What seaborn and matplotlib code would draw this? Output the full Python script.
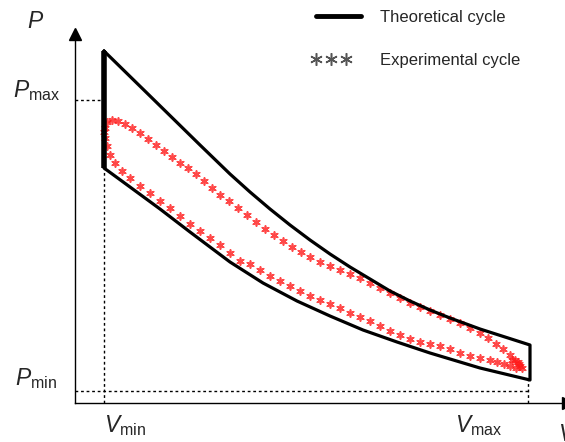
import matplotlib
matplotlib.use('Agg')
import numpy as np
import pandas as pd
import matplotlib.pyplot as plt
from matplotlib.lines import Line2D
from matplotlib.legend_handler import HandlerLine2D
import seaborn as sns

# Theoretical cycle (arbitrary units)
theo_upper_v = [2.9, 7.5, 12.5, 15.5, 17.5, 19.5, 21.5, 23.5, 25.5, 27.5, 29.5,
                31.5, 33.5, 35.5, 37.5, 40.5, 43.0, 45.5]
theo_upper_p = [35.2, 30.7, 25.8, 22.9, 21.1, 19.4, 17.8, 16.3, 14.9, 13.6, 12.4,
                11.2, 10.2, 9.3, 8.5, 7.4, 6.6, 5.8]
theo_lower_v = [45.5, 40.5, 35.5, 32.2, 28.8, 25.5, 22.2, 18.8, 15.5, 13.5, 11.5,
                8.5, 5.5, 2.9]
theo_lower_p = [2.3, 3.5, 5.0, 6.1, 7.3, 8.7, 10.2, 12.0, 14.1, 15.6, 17.1,
                19.4, 21.6, 23.5]

# Experimental cycle, upper branch (left to right)
exp_upper_v = [3.0, 3.2, 3.7, 4.3, 5.0, 5.7, 6.5, 7.3, 8.1, 8.9, 9.7, 10.5, 11.3,
               12.1, 12.9, 13.7, 14.5, 15.4, 16.3, 17.2, 18.1, 19.0, 19.9, 20.8,
               21.7, 22.6, 23.5, 24.5, 25.5, 26.5, 27.5, 28.5, 29.5, 30.5, 31.5,
               32.5, 33.5, 34.5, 35.5, 36.5, 37.5, 38.5, 39.5, 40.5, 41.3, 42.1,
               42.8, 43.5, 44.0, 44.4, 44.7]
exp_upper_p = [27.5, 28.1, 28.3, 28.2, 27.9, 27.5, 27.0, 26.4, 25.8, 25.2, 24.6,
               24.0, 23.5, 22.9, 22.2, 21.5, 20.8, 20.2, 19.5, 18.8, 18.1, 17.4,
               16.8, 16.2, 15.6, 15.1, 14.6, 14.1, 13.7, 13.3, 12.9, 12.5, 12.0,
               11.5, 11.0, 10.5, 10.0, 9.6, 9.2, 8.8, 8.4, 8.0, 7.5, 7.0, 6.5,
               5.9, 5.4, 4.8, 4.3, 3.9, 3.5]
# Experimental cycle, lower branch (right to left)
exp_lower_v = [44.5, 44.3, 43.7, 44.1, 43.5, 42.9, 42.2, 41.5, 40.5, 39.5, 38.5,
               37.5, 36.5, 35.5, 34.5, 33.5, 32.5, 31.5, 30.5, 29.5, 28.5, 27.5,
               26.5, 25.5, 24.5, 23.5, 22.5, 21.5, 20.5, 19.5, 18.5, 17.5, 16.5,
               15.5, 14.5, 13.5, 12.5, 11.5, 10.5, 9.5, 8.5, 7.5, 6.5, 5.5, 4.7,
               4.0, 3.5, 3.2, 3.0, 2.9]
exp_lower_p = [3.7, 4.1, 4.3, 3.5, 3.7, 3.9, 4.1, 4.3, 4.5, 4.7, 5.0, 5.4, 5.7,
               5.9, 6.1, 6.4, 6.8, 7.2, 7.7, 8.2, 8.6, 9.0, 9.5, 9.9, 10.3, 10.7,
               11.2, 11.7, 12.2, 12.7, 13.3, 13.9, 14.2, 15.0, 15.8, 16.5, 17.2,
               17.9, 18.7, 19.5, 20.2, 21.0, 21.7, 22.5, 23.2, 24.0, 24.8, 25.7,
               26.5, 27.1]

# Reference levels
v_min, v_max = 2.9, 45.3
p_max, p_min = 30.3, 1.2

theo = pd.DataFrame({
    'V': theo_upper_v + theo_lower_v + [theo_upper_v[0]],
    'P': theo_upper_p + theo_lower_p + [theo_upper_p[0]],
})
expe = pd.DataFrame({'V': exp_upper_v + exp_lower_v,
                     'P': exp_upper_p + exp_lower_p})


class CompactHandler(HandlerLine2D):
    # squeeze the legend markers into the left part of the handle
    def get_xdata(self, legend, xdescent, ydescent, width, height, fontsize):
        return super().get_xdata(legend, xdescent, ydescent, width * 0.72,
                                 height, fontsize)


sns.set_style('white')
plt.rcParams['font.family'] = ['Liberation Sans', 'DejaVu Sans']
plt.rcParams['mathtext.fontset'] = 'custom'
plt.rcParams['mathtext.rm'] = 'Liberation Sans'
plt.rcParams['mathtext.it'] = 'Liberation Sans:italic'

fig = plt.figure(figsize=(5.65, 4.42), dpi=100)
ax = fig.add_axes([75 / 565, 39 / 442, 490 / 565, 403 / 442])
ax.set_xlim(0, 49.0)
ax.set_ylim(0, 40.3)

# dashed guides
dash = dict(color='black', lw=1, ls=(0, (2, 2)))
ax.plot([0, v_min], [p_max, p_max], **dash)
ax.plot([0, v_max], [p_min, p_min], **dash)
ax.plot([v_min, v_min], [0, theo_lower_p[-1]], **dash)
ax.plot([v_max, v_max], [0, theo_lower_p[0]], **dash)

# theoretical cycle
sns.lineplot(data=theo, x='V', y='P', sort=False, estimator=None,
             color='black', lw=2.3, ax=ax)
ax.plot([theo_lower_v[-1], theo_upper_v[0]], [theo_lower_p[-1], theo_upper_p[0]],
        color='black', lw=4, solid_capstyle='butt')

# experimental cycle
sns.scatterplot(data=expe, x='V', y='P', marker=(6, 2, 0), color='#ff1a1a',
                s=26, linewidth=1.2, alpha=0.8, ax=ax)

# axes with arrows
for side in ['top', 'right']:
    ax.spines[side].set_visible(False)
for side in ['left', 'bottom']:
    ax.spines[side].set_color('black')
    ax.spines[side].set_linewidth(1)
ax.spines['left'].set_bounds(0, 36.6)
ax.set_xticks([])
ax.set_yticks([])
ax.set_xlabel('')
ax.set_ylabel('')
ax.plot(0, 36.9, '^k', ms=8, clip_on=False)
ax.plot(49.3, 0, '>k', ms=8, clip_on=False)

# labels
lab = dict(fontsize=16.5, ha='left', va='baseline', clip_on=False)
ax.text(-4.8, 37.5, r'$P$', **lab)
ax.text(-6.2, 30.6, r'$P_{\mathrm{max}}$', **lab)
ax.text(-6.0, 1.8, r'$P_{\mathrm{min}}$', **lab)
ax.text(2.9, -2.9, r'$V_{\mathrm{min}}$', **lab)
ax.text(38.0, -2.9, r'$V_{\mathrm{max}}$', **lab)
ax.text(48.3, -3.8, r'$V$', **lab)

theo_handle = Line2D([], [], color='black', lw=3.5)
exp_handle = Line2D([], [], color='#555555', ls='none', marker=(6, 2, 0),
                    ms=9, mew=1.1)
ax.legend([theo_handle, exp_handle], ['Theoretical cycle', 'Experimental cycle'],
          loc='upper left', bbox_to_anchor=(303 / 565, 1 - 2 / 442),
          bbox_transform=fig.transFigure, frameon=False, fontsize=12,
          handlelength=3.3, handletextpad=0.8, labelspacing=1.65, borderpad=0,
          numpoints=3, handler_map={exp_handle: CompactHandler(numpoints=3)})

fig.savefig('out.png', dpi=100)
